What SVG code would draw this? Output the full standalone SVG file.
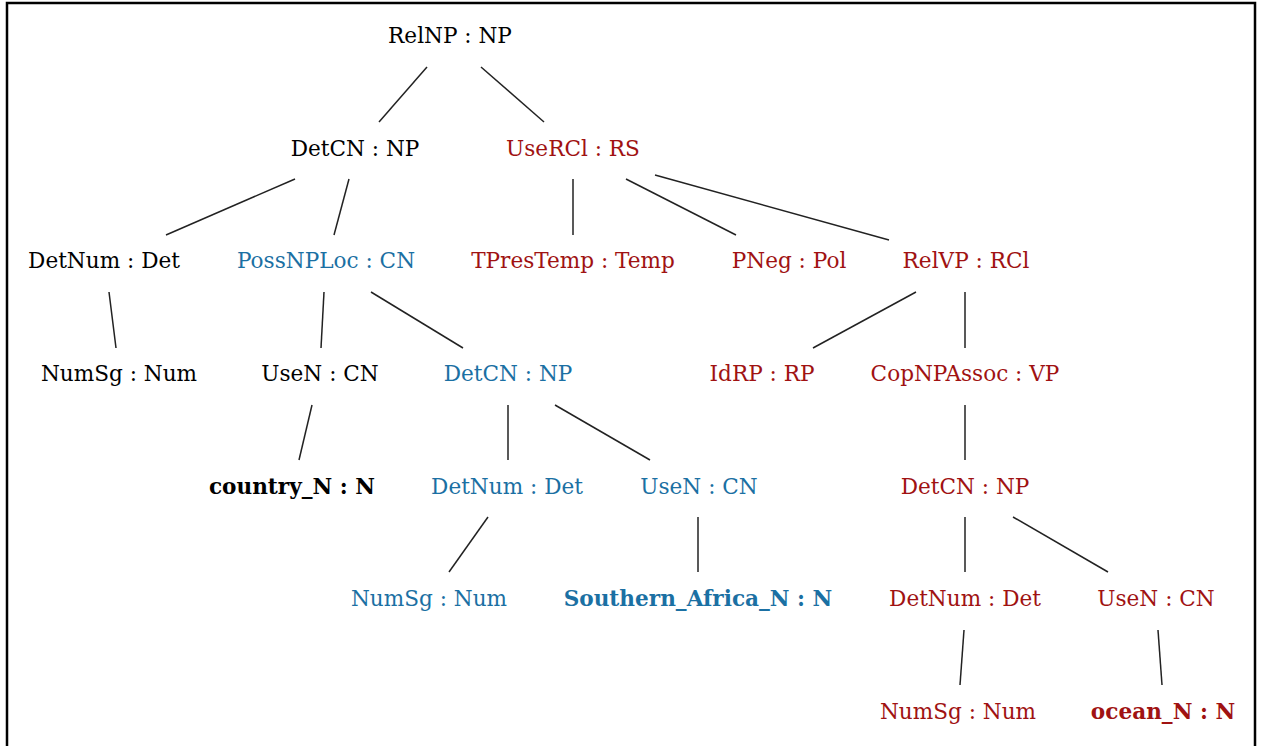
<svg xmlns="http://www.w3.org/2000/svg" width="1261" height="746" viewBox="0 0 1261 746">
<style>
text{font-family:"DejaVu Serif",serif;font-size:21.6px;text-anchor:middle}
.k{fill:#000}
.b{fill:#1b70a3}
.r{fill:#a01212}
.w{font-weight:bold}
#edges line{stroke:#222;stroke-width:1.5}
</style>
<rect x="0" y="0" width="1261" height="746" fill="#fff"/>
<rect x="7" y="3" width="1248" height="760" fill="none" stroke="#000" stroke-width="2.5"/>
<g id="edges">
<line x1="427" y1="67" x2="379" y2="122"/>
<line x1="481" y1="67" x2="544" y2="122"/>
<line x1="295" y1="179" x2="166" y2="235"/>
<line x1="349" y1="179" x2="334" y2="235"/>
<line x1="573" y1="179" x2="573" y2="235"/>
<line x1="626" y1="179" x2="736" y2="235"/>
<line x1="655" y1="175" x2="889" y2="240"/>
<line x1="109" y1="292" x2="116" y2="348"/>
<line x1="324" y1="292" x2="321" y2="348"/>
<line x1="371" y1="292" x2="463" y2="348"/>
<line x1="916" y1="292" x2="813" y2="348"/>
<line x1="965" y1="292" x2="965" y2="348"/>
<line x1="312" y1="405" x2="299" y2="460"/>
<line x1="508" y1="405" x2="508" y2="460"/>
<line x1="555" y1="405" x2="650" y2="460"/>
<line x1="965" y1="405" x2="965" y2="460"/>
<line x1="488" y1="517" x2="449" y2="572"/>
<line x1="698" y1="517" x2="698" y2="572"/>
<line x1="965" y1="517" x2="965" y2="572"/>
<line x1="1013" y1="517" x2="1108" y2="572"/>
<line x1="964" y1="630" x2="960" y2="685"/>
<line x1="1158" y1="630" x2="1162" y2="685"/>
</g>
<g id="n1"><text class="k" x="450" y="43">RelNP : NP</text></g>
<g id="n2"><text class="k" x="355" y="156">DetCN : NP</text></g>
<g id="n3"><text class="r" x="573" y="156">UseRCl : RS</text></g>
<g id="n4"><text class="k" x="104" y="268">DetNum : Det</text></g>
<g id="n5"><text class="b" x="326" y="268">PossNPLoc : CN</text></g>
<g id="n6"><text class="r" x="573" y="268">TPresTemp : Temp</text></g>
<g id="n7"><text class="r" x="789" y="268">PNeg : Pol</text></g>
<g id="n8"><text class="r" x="966" y="268">RelVP : RCl</text></g>
<g id="n9"><text class="k" x="119" y="381">NumSg : Num</text></g>
<g id="n10"><text class="k" x="320" y="381">UseN : CN</text></g>
<g id="n11"><text class="b" x="508" y="381">DetCN : NP</text></g>
<g id="n12"><text class="r" x="762" y="381">IdRP : RP</text></g>
<g id="n13"><text class="r" x="965" y="381">CopNPAssoc : VP</text></g>
<g id="n14"><text class="k w" x="292" y="494">country_N : N</text></g>
<g id="n15"><text class="b" x="507" y="494">DetNum : Det</text></g>
<g id="n16"><text class="b" x="699" y="494">UseN : CN</text></g>
<g id="n17"><text class="r" x="965" y="494">DetCN : NP</text></g>
<g id="n18"><text class="b" x="429" y="606">NumSg : Num</text></g>
<g id="n19"><text class="b w" x="698" y="606">Southern_Africa_N : N</text></g>
<g id="n20"><text class="r" x="965" y="606">DetNum : Det</text></g>
<g id="n21"><text class="r" x="1156" y="606">UseN : CN</text></g>
<g id="n22"><text class="r" x="958" y="719">NumSg : Num</text></g>
<g id="n23"><text class="r w" x="1163" y="719">ocean_N : N</text></g>
</svg>
